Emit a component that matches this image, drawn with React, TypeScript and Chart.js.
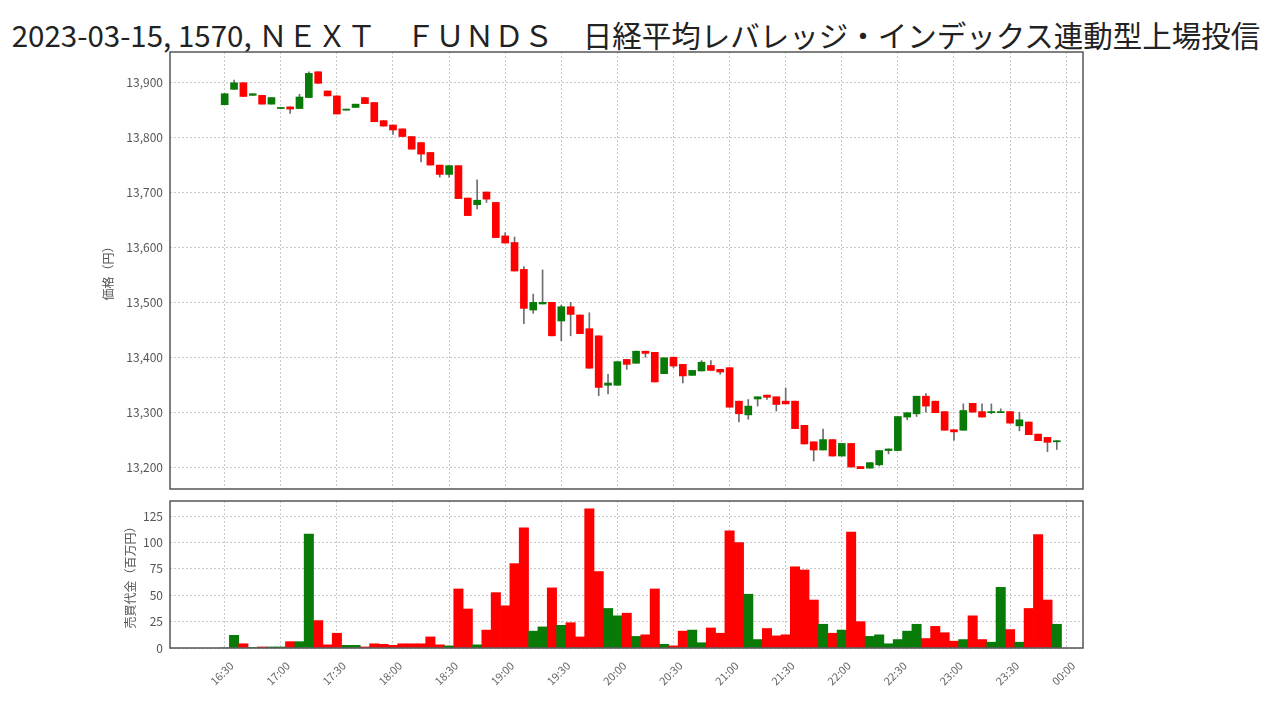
import React, { useEffect, useRef } from 'react';
import { Chart, registerables } from 'chart.js';

Chart.register(...registerables);

const FONT = '"Noto Sans CJK JP", "Noto Sans", sans-serif';

const titleText = '2023-03-15, 1570, ＮＥＸＴ　ＦＵＮＤＳ　日経平均レバレッジ・インデックス連動型上場投信';
const priceAxisTitle = '価格（円）';
const volumeAxisTitle = '売買代金（百万円）';

const times = [
  '16:30', '16:35', '16:40', '16:45', '16:50', '16:55', '17:00', '17:05', '17:10', '17:15',
  '17:20', '17:25', '17:30', '17:35', '17:40', '17:45', '17:50', '17:55', '18:00', '18:05',
  '18:10', '18:15', '18:20', '18:25', '18:30', '18:35', '18:40', '18:45', '18:50', '18:55',
  '19:00', '19:05', '19:10', '19:15', '19:20', '19:25', '19:30', '19:35', '19:40', '19:45',
  '19:50', '19:55', '20:00', '20:05', '20:10', '20:15', '20:20', '20:25', '20:30', '20:35',
  '20:40', '20:45', '20:50', '20:55', '21:00', '21:05', '21:10', '21:15', '21:20', '21:25',
  '21:30', '21:35', '21:40', '21:45', '21:50', '21:55', '22:00', '22:05', '22:10', '22:15',
  '22:20', '22:25', '22:30', '22:35', '22:40', '22:45', '22:50', '22:55', '23:00', '23:05',
  '23:10', '23:15', '23:20', '23:25', '23:30', '23:35', '23:40', '23:45', '23:50', '23:55',
];

const opens = [
  13860, 13888, 13900, 13877, 13877, 13861, 13853, 13856, 13853, 13873,
  13920, 13885, 13876, 13850, 13855, 13873, 13864, 13831, 13823, 13816,
  13802, 13791, 13773, 13750, 13733, 13749, 13690, 13678, 13701, 13682,
  13621, 13609, 13560, 13486, 13497, 13500, 13466, 13492, 13477, 13452,
  13439, 13349, 13349, 13396, 13389, 13411, 13409, 13370, 13400, 13387,
  13367, 13375, 13385, 13378, 13381, 13320, 13295, 13324, 13331, 13328,
  13320, 13320, 13276, 13246, 13231, 13250, 13220, 13243, 13201, 13198,
  13204, 13230, 13230, 13291, 13297, 13329, 13320, 13301, 13268, 13267,
  13316, 13301, 13299, 13299, 13301, 13275, 13282, 13260, 13254, 13246,
];
const highs = [
  13880, 13905, 13900, 13880, 13877, 13873, 13855, 13856, 13879, 13920,
  13920, 13885, 13876, 13852, 13861, 13873, 13864, 13831, 13823, 13816,
  13802, 13791, 13773, 13750, 13749, 13749, 13690, 13723, 13701, 13682,
  13627, 13619, 13565, 13515, 13559, 13500, 13495, 13500, 13477, 13481,
  13439, 13369, 13392, 13396, 13411, 13411, 13409, 13399, 13400, 13387,
  13376, 13394, 13394, 13378, 13381, 13320, 13323, 13328, 13331, 13328,
  13344, 13320, 13276, 13246, 13269, 13250, 13243, 13243, 13201, 13208,
  13230, 13233, 13292, 13299, 13329, 13334, 13320, 13301, 13268, 13315,
  13316, 13315, 13315, 13306, 13301, 13300, 13282, 13260, 13254, 13248,
];
const lows = [
  13860, 13888, 13875, 13877, 13861, 13861, 13853, 13844, 13853, 13873,
  13899, 13876, 13843, 13850, 13855, 13862, 13829, 13821, 13806, 13802,
  13779, 13756, 13750, 13728, 13728, 13689, 13658, 13670, 13682, 13618,
  13608, 13557, 13461, 13480, 13497, 13439, 13430, 13439, 13443, 13380,
  13330, 13333, 13349, 13378, 13389, 13400, 13355, 13370, 13381, 13353,
  13367, 13375, 13376, 13369, 13309, 13282, 13287, 13311, 13323, 13302,
  13315, 13270, 13242, 13211, 13231, 13220, 13220, 13200, 13197, 13198,
  13202, 13224, 13230, 13286, 13292, 13300, 13299, 13267, 13249, 13267,
  13300, 13291, 13297, 13299, 13280, 13266, 13259, 13248, 13228, 13232,
];
const closes = [
  13880, 13900, 13875, 13880, 13861, 13873, 13855, 13852, 13874, 13917,
  13899, 13876, 13843, 13852, 13861, 13862, 13829, 13821, 13814, 13802,
  13779, 13770, 13750, 13733, 13749, 13689, 13658, 13686, 13688, 13618,
  13608, 13557, 13489, 13500, 13500, 13439, 13492, 13478, 13443, 13380,
  13345, 13353, 13392, 13387, 13411, 13407, 13355, 13399, 13384, 13366,
  13376, 13391, 13376, 13373, 13309, 13297, 13311, 13328, 13327, 13314,
  13315, 13270, 13242, 13231, 13250, 13220, 13243, 13200, 13197, 13208,
  13230, 13233, 13292, 13299, 13329, 13311, 13299, 13267, 13264, 13303,
  13300, 13291, 13301, 13301, 13280, 13286, 13259, 13248, 13245, 13248,
];
const volumes = [
  0, 12, 4, 0.5, 1, 1, 1, 6, 6, 108,
  26, 3, 14, 2.5, 2.5, 1, 4, 3.5, 2.5, 4,
  4, 4, 10.5, 3, 2, 56, 37, 3, 17, 52.5,
  40, 80, 114, 16, 20, 57, 21.5, 24, 10.5, 132,
  72.5, 37.5, 30.5, 33, 11, 12.5, 56, 3.5, 2, 16,
  17, 5, 19, 14, 111, 100, 51, 8, 18.5, 11.5,
  12.5, 77, 74, 45.5, 22.5, 14, 17, 110, 25, 11,
  12.5, 4, 8, 16, 22.5, 9, 20.5, 14.5, 6.5, 8,
  30.5, 8, 5.5, 57.5, 17.5, 5.5, 37.5, 107.5, 45.5, 22.5,
];

const timeTicks = [
  '16:30', '17:00', '17:30', '18:00', '18:30', '19:00', '19:30', '20:00',
  '20:30', '21:00', '21:30', '22:00', '22:30', '23:00', '23:30', '00:00',
];
const priceTicks = [13200, 13300, 13400, 13500, 13600, 13700, 13800, 13900];
const volumeTicks = [0, 25, 50, 75, 100, 125];

const UP = '#087a08';
const DOWN = '#ff0000';
const WICK = '#6e6e6e';
const GRID = '#c8c8c8';
const TICK = '#555555';

const toMinutes = (t: string) => {
  const [h, m] = t.split(':').map(Number);
  let v = h * 60 + m;
  if (h < 12) v += 24 * 60;
  return v - (16 * 60 + 30);
};

const xs = times.map(toMinutes);
const tickXs = timeTicks.map(toMinutes);
const colors = opens.map((o, i) => (closes[i] >= o ? UP : DOWN));

const X_MIN = -29.25;
const X_MAX = 459;

const framePlugin = {
  id: 'frame',
  afterDraw(chart: any) {
    const { ctx, chartArea } = chart;
    ctx.save();
    ctx.strokeStyle = '#555555';
    ctx.lineWidth = 1.5;
    ctx.strokeRect(chartArea.left, chartArea.top, chartArea.right - chartArea.left, chartArea.bottom - chartArea.top);
    ctx.restore();
  },
};

const noPad = (s: any) => {
  s.paddingTop = 0;
  s.paddingBottom = 0;
  s.paddingLeft = 0;
  s.paddingRight = 0;
};

export default function App() {
  const priceRef = useRef<HTMLCanvasElement | null>(null);
  const volRef = useRef<HTMLCanvasElement | null>(null);

  useEffect(() => {
    Chart.defaults.font.family = FONT;
    const xGridBase = {
      type: 'linear' as const,
      min: X_MIN,
      max: X_MAX,
      offset: false,
      grid: { offset: false, color: GRID, drawTicks: false, lineWidth: 1 },
      border: { display: false, dash: [2, 2] },
      afterBuildTicks: (s: any) => {
        s.ticks = tickXs.map((v) => ({ value: v }));
      },
    };

    const priceChart = new Chart(priceRef.current as HTMLCanvasElement, {
      type: 'bar',
      data: {
        datasets: [
          {
            label: 'wick',
            data: xs.map((x, i) => ({ x, y: [lows[i], highs[i]] })) as any,
            backgroundColor: WICK,
            barThickness: 1,
            grouped: false,
            order: 2,
          } as any,
          {
            label: 'body',
            data: xs.map((x, i) => ({ x, y: [opens[i], closes[i]] })) as any,
            backgroundColor: colors,
            barThickness: 7,
            grouped: false,
            order: 1,
          } as any,
        ],
      },
      options: {
        animation: false,
        responsive: false,
        maintainAspectRatio: false,
        layout: { padding: { left: 0, right: 197, top: 12, bottom: 11 } },
        plugins: { legend: { display: false }, tooltip: { enabled: false } },
        scales: {
          x: {
            ...xGridBase,
            ticks: { display: false },
            afterFit: (s: any) => {
              s.height = 0;
              noPad(s);
            },
          } as any,
          y: {
            min: 13160,
            max: 13956,
            grid: { color: GRID, drawTicks: false },
            border: { display: false, dash: [2, 2] },
            afterBuildTicks: (s: any) => {
              s.ticks = priceTicks.map((v) => ({ value: v }));
            },
            afterFit: (s: any) => {
              s.width = 170;
              noPad(s);
            },
            ticks: {
              color: TICK,
              font: { size: 12, family: FONT },
              padding: 7,
              callback: (v: any) => Number(v).toLocaleString('en-US'),
            },
            title: {
              display: true,
              text: priceAxisTitle,
              color: TICK,
              font: { size: 12, family: FONT },
              padding: { top: 101, bottom: 0 },
            },
          } as any,
        },
      },
      plugins: [framePlugin],
    });

    const volChart = new Chart(volRef.current as HTMLCanvasElement, {
      type: 'bar',
      data: {
        datasets: [
          {
            label: 'volume',
            data: xs.map((x, i) => ({ x, y: volumes[i] })) as any,
            backgroundColor: colors,
            barPercentage: 1,
            categoryPercentage: 1,
            grouped: false,
          } as any,
        ],
      },
      options: {
        animation: false,
        responsive: false,
        maintainAspectRatio: false,
        layout: { padding: { left: 0, right: 197, top: 6, bottom: 0 } },
        plugins: { legend: { display: false }, tooltip: { enabled: false } },
        scales: {
          x: {
            ...xGridBase,
            ticks: {
              display: true,
              autoSkip: false,
              maxRotation: 45,
              minRotation: 45,
              padding: 11,
              labelOffset: 7,
              color: '#666666',
              font: { size: 11, family: FONT },
              callback: (_v: any, i: number) => timeTicks[i],
            },
            afterFit: (s: any) => {
              s.height = 72;
              noPad(s);
            },
          } as any,
          y: {
            min: 0,
            max: 139.4,
            grid: { color: GRID, drawTicks: false },
            border: { display: false, dash: [2, 2] },
            afterBuildTicks: (s: any) => {
              s.ticks = volumeTicks.map((v) => ({ value: v }));
            },
            afterFit: (s: any) => {
              s.width = 170;
              noPad(s);
            },
            ticks: {
              color: TICK,
              font: { size: 12, family: FONT },
              padding: 7,
            },
            title: {
              display: true,
              text: volumeAxisTitle,
              color: TICK,
              font: { size: 12, family: FONT },
              padding: { top: 123, bottom: 0 },
            },
          } as any,
        },
      },
      plugins: [framePlugin],
    });

    return () => {
      priceChart.destroy();
      volChart.destroy();
    };
  }, []);

  return (
    <div style={{ position: 'absolute', left: 0, top: 0, width: 1280, height: 720, background: '#ffffff', overflow: 'hidden' }}>
      <div
        style={{
          position: 'absolute',
          left: -4,
          top: 20,
          width: 1280,
          textAlign: 'center',
          fontFamily: FONT,
          fontSize: 29.5,
          lineHeight: '29px',
          color: '#222222',
          whiteSpace: 'nowrap',
        }}
      >
        {titleText}
      </div>
      <canvas ref={priceRef} width={1280} height={460} style={{ position: 'absolute', left: 0, top: 40, width: 1280, height: 460 }} />
      <canvas ref={volRef} width={1280} height={225} style={{ position: 'absolute', left: 0, top: 495, width: 1280, height: 225 }} />
    </div>
  );
}
